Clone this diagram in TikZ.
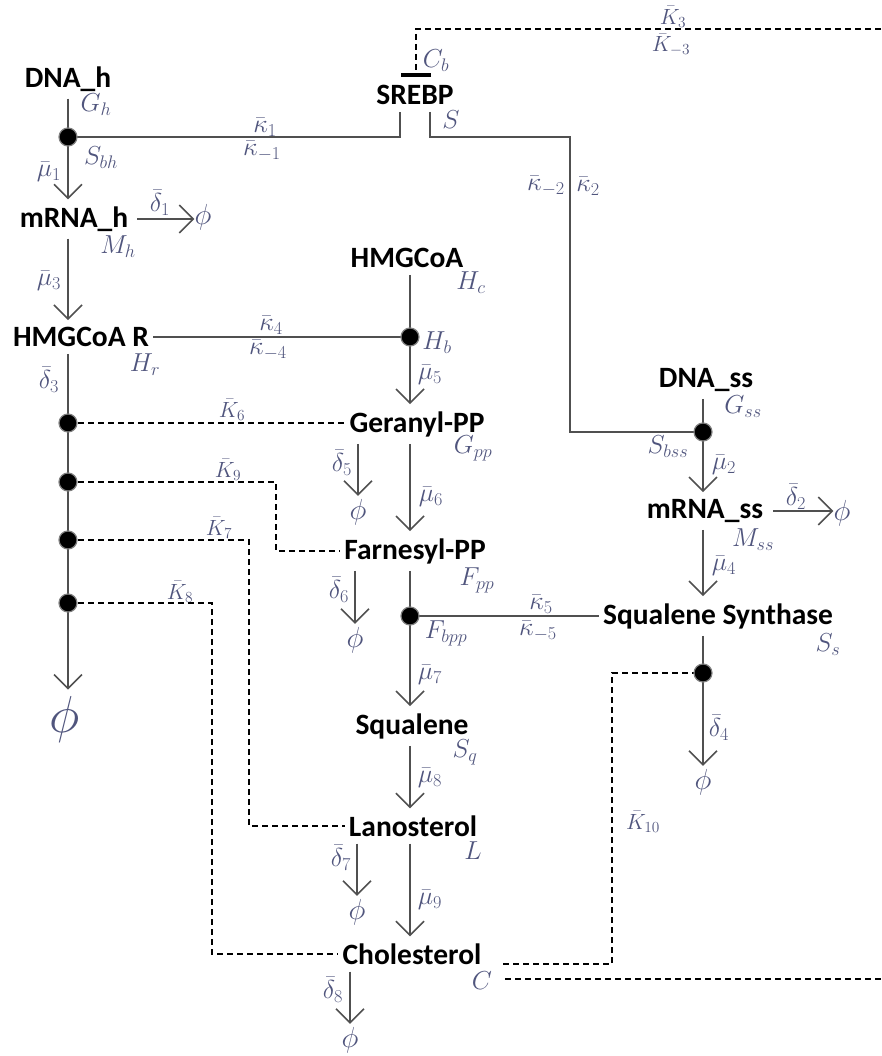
\RequirePackage{fix-cm}
\documentclass[tikz,border=0pt]{standalone}
\usepackage{fontspec}
\newfontfamily\calb{Carlito}
\usetikzlibrary{arrows.meta}
\definecolor{mc}{RGB}{80,85,125}
\definecolor{lc}{RGB}{80,80,80}
\begin{document}
\begin{tikzpicture}[x=1pt,y=-1pt,
 sp/.style={font=\calb\bfseries\fontsize{29.5}{31}\selectfont, inner xsep=4pt, inner ysep=7pt},
 ml/.style={text=mc, font=\fontsize{26}{28}\selectfont, inner sep=0pt},
 kl/.style={text=mc, font=\fontsize{22}{24}\selectfont, inner sep=0pt},
 phin/.style={text=mc, font=\fontsize{29}{30}\selectfont, inner sep=0pt},
 sol/.style={draw=lc, line width=1.7pt},
 dsh/.style={draw=black, line width=1.4pt, dash pattern=on 6pt off 4pt},
 arr/.style={-{Straight Barb[length=14pt,width=28pt,line width=1.6pt]}},
 jdot/.style={circle, fill=black, draw=gray, line width=1.2pt, minimum size=18pt, inner sep=0pt},
]
\useasboundingbox (0,0) rectangle (881,1056);

% species
\node[sp] (dnah) at (68,79) {DNA\_h};
\node[sp] (srebp) at (415,95) {SREBP};
\node[sp] (mrnah) at (74,219) {mRNA\_h};
\node[sp] (hmgcoa) at (407,258) {HMGCoA};
\node[sp] (hmgr) at (81,337) {HMGCoA R};
\node[sp] (dnass) at (706,380) {DNA\_ss};
\node[sp] (ger) at (417,424) {Geranyl-PP};
\node[sp] (mrnass) at (705,511) {mRNA\_ss};
\node[sp] (far) at (415,551) {Farnesyl-PP};
\node[sp] (sqs) at (718,616) {Squalene Synthase};
\node[sp] (sq) at (412,726) {Squalene};
\node[sp] (lan) at (413,826) {Lanosterol};
\node[sp] (chol) at (412,954) {Cholesterol};

% junction positions
\coordinate (sbh) at (68,137);
\coordinate (hb) at (410,337);
\coordinate (sbss) at (703,432);
\coordinate (fbpp) at (410,616);
\coordinate (dk6) at (68,423);
\coordinate (dk9) at (68,482);
\coordinate (dk7) at (68,540);
\coordinate (dk8) at (68,603);
\coordinate (ssd) at (703,673);

% sinks
\node[phin] (phi1) at (203,217) {$\phi$};
\node[phin] (phi2) at (842,513) {$\phi$};
\node[phin] (phi5) at (358,512) {$\phi$};
\node[phin] (phi6) at (355,640) {$\phi$};
\node[phin] (phi7) at (357,912) {$\phi$};
\node[phin] (phi8) at (350,1040) {$\phi$};
\node[phin] (phi4) at (703,782) {$\phi$};
\node[phin, font=\fontsize{52}{54}\selectfont] (phiL) at (65,719) {$\phi$};

% labels
\node[ml] (lGh) at (96,105) {$G_h$};
\node[ml] (lSbh) at (101,158) {$S_{bh}$};
\node[ml] (lmu1) at (49,172) {$\bar\mu_1$};
\node[ml] (lk1) at (265,127) {$\bar\kappa_1$};
\node[ml] (lkm1) at (262,151) {$\bar\kappa_{-1}$};
\node[ml] (ld1) at (160,203) {$\bar\delta_1$};
\node[ml] (lMh) at (118,247) {$M_h$};
\node[ml] (lCb) at (436,61) {$C_b$};
\node[ml] (lS) at (451,120) {$S$};
\node[ml] (lkm2) at (546,186) {$\bar\kappa_{-2}$};
\node[ml] (lk2) at (588,186) {$\bar\kappa_2$};
\node[kl] (lk3) at (673,17) {$\bar K_3$};
\node[kl] (lkm3) at (671,45) {$\bar K_{-3}$};
\node[ml] (lk4) at (271,325) {$\bar\kappa_4$};
\node[ml] (lkm4) at (268,350) {$\bar\kappa_{-4}$};
\node[ml] (lHr) at (145,365) {$H_r$};
\node[ml] (lmu3) at (49,281) {$\bar\mu_3$};
\node[ml] (ld3) at (49,380) {$\bar\delta_3$};
\node[kl] (lk6) at (232,410) {$\bar K_6$};
\node[kl] (lk9) at (228,470) {$\bar K_9$};
\node[kl] (lk7) at (219,528) {$\bar K_7$};
\node[kl] (lk8) at (180,592) {$\bar K_8$};
\node[ml] (lHc) at (471,283) {$H_c$};
\node[ml] (lHb) at (437,343) {$H_b$};
\node[ml] (lmu5) at (430,375) {$\bar\mu_5$};
\node[ml] (lGpp) at (473,448) {$G_{pp}$};
\node[ml] (ld5) at (342,463) {$\bar\delta_5$};
\node[ml] (lmu6) at (431,497) {$\bar\mu_6$};
\node[ml] (ld6) at (339,590) {$\bar\delta_6$};
\node[ml] (lFpp) at (477,580) {$F_{pp}$};
\node[ml] (lk5) at (541,604) {$\bar\kappa_5$};
\node[ml] (lkm5) at (538,631) {$\bar\kappa_{-5}$};
\node[ml] (lFbpp) at (446,633) {$F_{bpp}$};
\node[ml] (lmu7) at (430,675) {$\bar\mu_7$};
\node[ml] (lSq) at (465,752) {$S_q$};
\node[ml] (lmu8) at (430,778) {$\bar\mu_8$};
\node[ml] (lL) at (473,851) {$L$};
\node[ml] (ld7) at (341,858) {$\bar\delta_7$};
\node[ml] (lmu9) at (430,900) {$\bar\mu_9$};
\node[ml] (lC) at (482,981) {$C$};
\node[ml] (ld8) at (333,990) {$\bar\delta_8$};
\node[ml] (lGss) at (743,407) {$G_{ss}$};
\node[ml] (lSbss) at (668,447) {$S_{bss}$};
\node[ml] (lmu2) at (724,465) {$\bar\mu_2$};
\node[ml] (ld2) at (796,497) {$\bar\delta_2$};
\node[ml] (lMss) at (753,540) {$M_{ss}$};
\node[ml] (lmu4) at (724,566) {$\bar\mu_4$};
\node[ml] (lSs) at (828,645) {$S_s$};
\node[ml] (ld4) at (719,728) {$\bar\delta_4$};
\node[kl] (lk10) at (643,822) {$\bar K_{10}$};

% helper coordinates
\coordinate (sl) at ([xshift=-15pt]srebp.south);
\coordinate (sr) at ([xshift=15pt]srebp.south);
\coordinate (rc) at (570,137);
\coordinate (k3e) at (881,29);
\coordinate (k3c) at (416,29);
\coordinate (cb) at (416,77);
\coordinate (c9) at (276,482);
\coordinate (c7) at (249,540);
\coordinate (c8) at (212,603);
\coordinate (ch1) at (503,964);
\coordinate (c10) at (612,964);
\coordinate (ch2) at (505,979);
\coordinate (e2) at (881,979);

% dashed regulation
\draw[dsh,-{Bar[width=30pt,line width=4pt]}] (k3e) -- (k3c) -- (cb);
\draw[dsh] (dk6) -- (dk6 -| ger.west);
\draw[dsh] (dk9) -- (c9) |- (far.west);
\draw[dsh] (dk7) -- (c7) |- (lan.west);
\draw[dsh] (dk8) -- (c8) |- (chol.west);
\draw[dsh] (ch1) -- (c10) |- (ssd);
\draw[dsh] (ch2) -- (e2);

% solid reactions
\draw[sol,arr] (dnah.south -| sbh) -- (mrnah.north -| sbh);
\draw[sol,arr] (mrnah.south -| sbh) -- (hmgr.north -| sbh);
\draw[sol,arr,shorten >=6pt] (hmgr.south -| sbh) -- (phiL.north -| sbh);
\draw[sol] (sbh) -- (sbh -| sl) -- (sl);
\draw[sol] (sr) |- (rc) -- (rc |- sbss) -- (sbss);
\draw[sol,arr,shorten <=5pt] (mrnah.east) -- (mrnah.east -| phi1.west);
\draw[sol] (hmgr.east) -- (hb);
\draw[sol,arr] (hmgcoa.south -| hb) -- (ger.north -| hb);
\draw[sol,arr,shorten >=3pt] (ger.south -| phi5) -- (phi5.north);
\draw[sol,arr] (ger.south -| hb) -- (far.north -| hb);
\draw[sol,arr,shorten >=3pt] (far.south -| phi6) -- (phi6.north);
\draw[sol,arr] (far.south -| hb) -- (sq.north -| hb);
\draw[sol] (fbpp) -- (sqs.west);
\draw[sol,arr] (sq.south -| hb) -- (lan.north -| hb);
\draw[sol,arr,shorten >=3pt] (lan.south -| phi7) -- (phi7.north);
\draw[sol,arr] (lan.south -| hb) -- (chol.north -| hb);
\draw[sol,arr,shorten >=3pt] (chol.south -| phi8) -- (phi8.north);
\draw[sol,arr] (dnass.south -| sbss) -- (mrnass.north -| sbss);
\draw[sol,arr,shorten <=6pt] (mrnass.east) -- (mrnass.east -| phi2.west);
\draw[sol,arr] (mrnass.south -| sbss) -- (sqs.north -| sbss);
\draw[sol,arr,shorten >=3pt] (sqs.south -| sbss) -- (phi4.north);

% junction dots
\foreach \p in {sbh,hb,sbss,fbpp,dk6,dk9,dk7,dk8,ssd}
  \node[jdot] (\p dot) at (\p) {};
\end{tikzpicture}
\end{document}
